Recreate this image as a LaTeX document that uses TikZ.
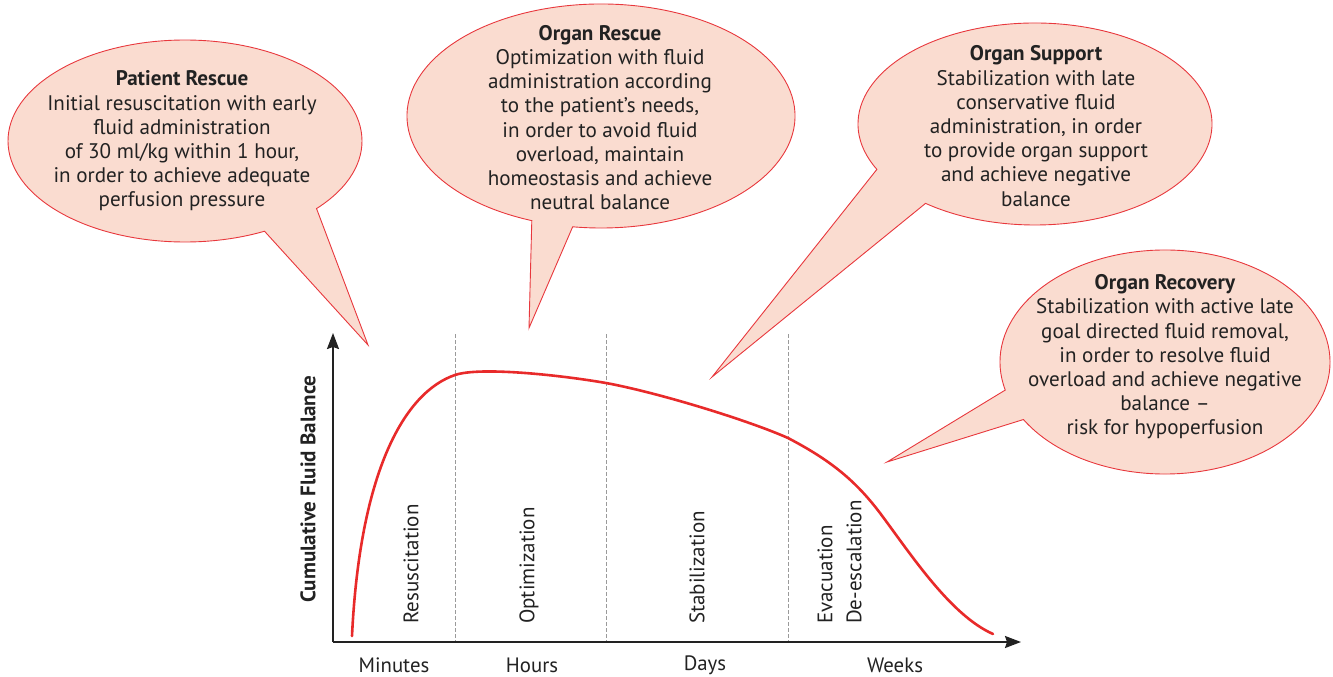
\documentclass[tikz,border=0pt]{standalone}
\usepackage{fontspec}
\setmainfont{PT Sans}
\usetikzlibrary{calc,arrows.meta}
\definecolor{bfill}{HTML}{FADCD0}
\definecolor{bline}{HTML}{E8383D}
\definecolor{curvec}{HTML}{E82A2A}
\definecolor{txt}{HTML}{222222}
\definecolor{dashc}{HTML}{9A9A9A}
\begin{document}
\begin{tikzpicture}[x=1pt,y=-1pt,
  bubble/.style={fill=bfill,draw=bline,line width=0.9pt,line join=miter},
  btext/.style={align=center,text=txt,font=\fontsize{21.1}{24.2}\selectfont,inner sep=0pt},
  axis/.style={draw=txt,line width=1.8pt,-{Stealth[length=16pt,width=12pt,inset=2pt]}},
  sep/.style={draw=dashc,line width=0.9pt,dash pattern=on 3.5pt off 2.5pt},
  phase/.style={rotate=90,anchor=west,text=txt,font=\fontsize{21}{24}\selectfont,inner sep=0pt},
  tlab/.style={text=txt,font=\fontsize{20.8}{24}\selectfont,inner sep=0pt}]
\useasboundingbox (0,0) rectangle (1333,677);
% bubbles
\coordinate (c1) at (185,141);
\coordinate (t1) at (368,345);
\draw[bubble] (t1) -- ($(c1)+(42:177 and 101)$) arc[start angle=42,end angle=-296.7,x radius=177,y radius=101] -- cycle;
\coordinate (c2) at (601,116);
\coordinate (t2) at (529,328);
\draw[bubble] (t2) -- ($(c2)+(110.9:194 and 112)$) arc[start angle=110.9,end angle=458.4,x radius=194,y radius=112] -- cycle;
\coordinate (c3) at (1035,124);
\coordinate (t3) at (712,377);
\draw[bubble] (t3) -- ($(c3)+(153.3:177 and 101)$) arc[start angle=153.3,end angle=488.2,x radius=177,y radius=101] -- cycle;
\coordinate (c4) at (1165,362);
\coordinate (t4) at (887,462);
\draw[bubble] (t4) -- ($(c4)+(165.5:165 and 112)$) arc[start angle=165.5,end angle=509.1,x radius=165,y radius=112] -- cycle;
% bubble texts
\node[btext] (b1) at (182,141) {\textbf{Patient Rescue}\\Initial resuscitation with early\\fluid administration\\of 30 ml/kg within 1 hour,\\in order to achieve adequate\\perfusion pressure};
\node[btext] (b2) at (600,117.5) {\textbf{Organ Rescue}\\Optimization with fluid\\administration according\\to the patient’s needs,\\in order to avoid fluid\\overload, maintain\\homeostasis and achieve\\neutral balance};
\node[btext] (b3) at (1036,126) {\textbf{Organ Support}\\Stabilization with late\\conservative fluid\\administration, in order\\to provide organ support\\and achieve negative\\balance};
\node[btext] (b4) at (1165,357) {\textbf{Organ Recovery}\\Stabilization with active late\\goal directed fluid removal,\\in order to resolve fluid\\overload and achieve negative\\balance –\\risk for hypoperfusion};
% axes
\coordinate (o) at (333,642);
\coordinate (ytop) at (333,333);
\coordinate (xend) at (1021,642);
\draw[sep] (455,334) -- (455,642);
\draw[sep] (606,334) -- (606,642);
\draw[sep] (788,334) -- (788,642);
\draw[axis] (o) -- (ytop);
\draw[axis] (o) -- (xend);
% curve
\draw[curvec,line width=2.6pt,line cap=round] (352,636) .. controls (360,470) and (405,392) .. (455,375)
  .. controls (480,366.5) and (560,375) .. (606,383)
  .. controls (660,393) and (750,421) .. (788,438)
  .. controls (830,460) and (855,480) .. (880,513)
  .. controls (910,553) and (950,615) .. (993,634);
% phase labels
\node[phase] (p1) at (411,624) {Resuscitation};
\node[phase] (p2) at (529,624) {Optimization};
\node[phase] (p3) at (697,624) {Stabilization};
\node[phase] (p4) at (825,624) {Evacuation};
\node[phase] (p5) at (854,624) {De-escalation};
\node[rotate=90,text=txt,font=\bfseries\fontsize{21}{24}\selectfont,inner sep=0pt] (ylab) at (308,489) {Cumulative Fluid Balance};
% time labels
\node[tlab] (m) at (394,665) {Minutes};
\node[tlab] (h) at (532,665) {Hours};
\node[tlab] (d) at (705,665) {Days};
\node[tlab] (w) at (895,665) {Weeks};
\end{tikzpicture}
\end{document}
